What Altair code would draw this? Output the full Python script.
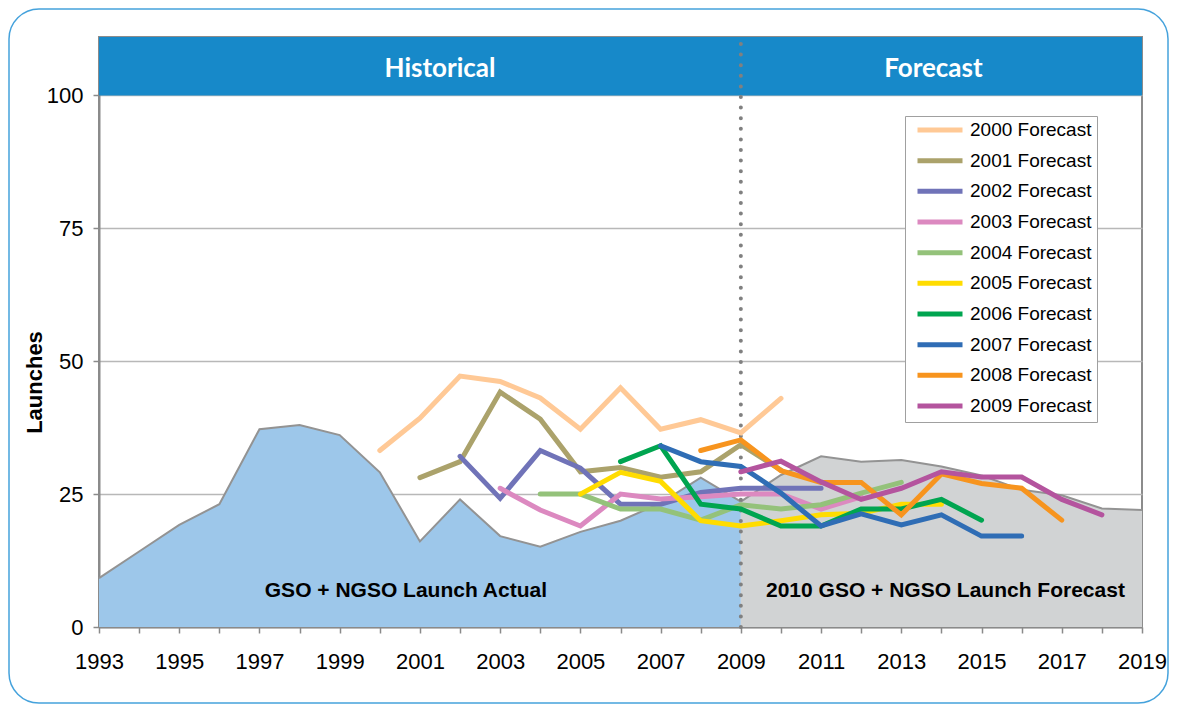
import altair as alt
import pandas as pd

# ---------------- data ----------------
actual_years = list(range(1993, 2010))
actual_vals = [9.2, 14.2, 19.2, 23.1, 37.2, 38.0, 36.1, 29.1, 16.1, 24.0,
               17.1, 15.1, 17.9, 20.0, 23.3, 28.1, 23.6]
fc_years = list(range(2009, 2020))
fc_vals = [23.6, 28.6, 32.1, 31.1, 31.4, 30.2, 28.5, 25.8, 24.8, 22.3, 22.0]

series_names = ["2000 Forecast", "2001 Forecast", "2002 Forecast", "2003 Forecast",
                "2004 Forecast", "2005 Forecast", "2006 Forecast", "2007 Forecast",
                "2008 Forecast", "2009 Forecast"]
series_start = [2000, 2001, 2002, 2003, 2004, 2005, 2006, 2007, 2008, 2009]
series_vals = [
    [33.2, 39.3, 47.2, 46.2, 43.1, 37.2, 45.0, 37.2, 39.0, 36.5, 43.0],
    [28.1, 31.1, 44.2, 39.1, 29.2, 30.0, 28.2, 29.2, 34.3, 29.5],
    [32.1, 24.2, 33.2, 29.9, 23.1, 23.1, 25.3, 26.1, 26.1, 26.1],
    [26.1, 22.0, 19.0, 25.0, 24.1, 24.5, 25.0, 25.0, 22.2, 24.5],
    [25.0, 25.0, 22.2, 22.2, 20.1, 23.0, 22.2, 23.0, 25.2, 27.2],
    [25.0, 29.1, 27.4, 20.0, 19.0, 20.0, 21.1, 21.4, 23.1, 23.1],
    [31.1, 34.1, 23.1, 22.2, 19.0, 19.0, 22.2, 22.2, 24.0, 20.1],
    [34.1, 31.1, 30.2, 25.2, 19.0, 21.3, 19.2, 21.1, 17.1, 17.1],
    [33.2, 35.2, 29.4, 27.2, 27.2, 21.1, 28.8, 27.0, 26.1, 20.1],
    [29.2, 31.2, 27.3, 24.0, 26.1, 29.2, 28.2, 28.2, 24.0, 21.1],
]
series_colors = ["#FFC996", "#ABA26B", "#7073B8", "#DC89C0", "#94C27A",
                 "#FFDC00", "#00A550", "#2F6DB5", "#F7941E", "#B4549E"]

header_labels = ["Historical", "Forecast"]
header_pos = [2001.5, 2013.8]
area_labels = ["GSO + NGSO Launch Actual", "2010 GSO + NGSO Launch Forecast"]
area_label_pos = [2000.65, 2014.1]
split_year = 2009
x_ticks = list(range(1993, 2020))
y_ticks = [0, 25, 50, 75, 100]

# ---------------- frames ----------------
df_actual = pd.DataFrame({"year": actual_years, "v": actual_vals})
df_fc = pd.DataFrame({"year": fc_years, "v": fc_vals})
rows = []
for name, start, vals in zip(series_names, series_start, series_vals):
    for i, v in enumerate(vals):
        rows.append({"series": name, "year": start + i, "v": v})
df_lines = pd.DataFrame(rows)
df_header = pd.DataFrame({"x": [1993], "x2": [2019], "y": [100], "y2": [111]})
df_htext = pd.DataFrame({"label": header_labels, "x": header_pos, "y": [105.0, 105.0]})
df_atext = pd.DataFrame({"label": area_labels, "x": area_label_pos, "y": [6.7, 6.7]})
df_split = pd.DataFrame({"x": [split_year], "y": [0], "y2": [111]})

FONT = "Liberation Sans"
xscale = alt.Scale(domain=[1993, 2019], nice=False, zero=False)
yscale = alt.Scale(domain=[0, 111], nice=False)

xax = alt.Axis(values=x_ticks, labelExpr="datum.value % 2 == 1 ? format(datum.value, 'd') : ''",
               grid=False, title=None, labelFontSize=22, labelFont=FONT, labelColor="#000",
               tickSize=6, tickColor="#8a8a8a", tickWidth=1.5, labelPadding=18,
               domainColor="#8a8a8a", domainWidth=2, labelFlush=False)
yax = alt.Axis(values=y_ticks, grid=True, gridColor="#b8b8b8", gridWidth=1.5,
               title="Launches", titleFont=FONT, titleFontSize=22, titleFontWeight="bold",
               titleColor="#000", titleX=-65, titleY=345, titleAngle=270,
               titleBaseline="middle", titleAlign="center",
               labelFontSize=22, labelFont=FONT, labelColor="#000", labelPadding=10,
               tickSize=6, tickColor="#8a8a8a", tickWidth=1.5,
               domainColor="#8a8a8a", domainWidth=2)

x_enc = alt.X("year:Q", scale=xscale, axis=xax)
y_enc = alt.Y("v:Q", scale=yscale, axis=yax)

area_actual = alt.Chart(df_actual).mark_area(
    color="#9DC7EA", opacity=1, line={"color": "#939393", "strokeWidth": 2}
).encode(x=x_enc, y=y_enc)
area_fc = alt.Chart(df_fc).mark_area(
    color="#D1D3D4", opacity=1, line={"color": "#939393", "strokeWidth": 2}
).encode(x="year:Q", y="v:Q")

header = alt.Chart(df_header).mark_rect(color="#1789C9").encode(
    x="x:Q", x2="x2", y="y:Q", y2="y2")

split = alt.Chart(df_split).mark_rule(
    color="#808080", strokeWidth=4, strokeDash=[0, 10.6], strokeCap="round"
).encode(x="x:Q", y="y:Q", y2="y2")

lines = alt.Chart(df_lines).mark_line(strokeWidth=5, strokeCap="round").encode(
    x="year:Q", y="v:Q",
    color=alt.Color("series:N",
                    scale=alt.Scale(domain=series_names, range=series_colors),
                    legend=alt.Legend(title=None, orient="none", legendX=806, legendY=79,
                                      symbolType="stroke", symbolSize=2025,
                                      symbolStrokeWidth=5, symbolOffset=5,
                                      clipHeight=18, rowPadding=11.67,
                                      labelFont=FONT, labelFontSize=19, labelColor="#000",
                                      labelOffset=5, padding=5, fillColor="white",
                                      strokeColor="#a0a0a0")),
)

htext = alt.Chart(df_htext).mark_text(
    font="Lato", fontSize=26, fontWeight="bold", color="white", baseline="middle"
).encode(x="x:Q", y="y:Q", text="label:N")

atext = alt.Chart(df_atext).mark_text(
    font=FONT, fontSize=21, fontWeight="bold", color="#000", baseline="middle"
).encode(x="x:Q", y="y:Q", text="label:N")

border = alt.Chart(pd.DataFrame({"d": [0]})).mark_rect(
    fill=None, filled=False, stroke="#45A2DC", strokeWidth=1.5, cornerRadius=30
).encode(x=alt.value(-90), x2=alt.value(1069), y=alt.value(-28), y2=alt.value(666))

chart = alt.layer(area_actual, area_fc, header, split, lines, htext, atext, border).properties(
    width=1043, height=590,
    autosize=alt.AutoSizeParams(type="none"),
    padding={"left": 91, "top": 29, "right": 27, "bottom": 77},
).configure_view(stroke="#8c8c8c", strokeWidth=2)

chart.save("out.html", embed_options={"renderer": "svg", "actions": False})
